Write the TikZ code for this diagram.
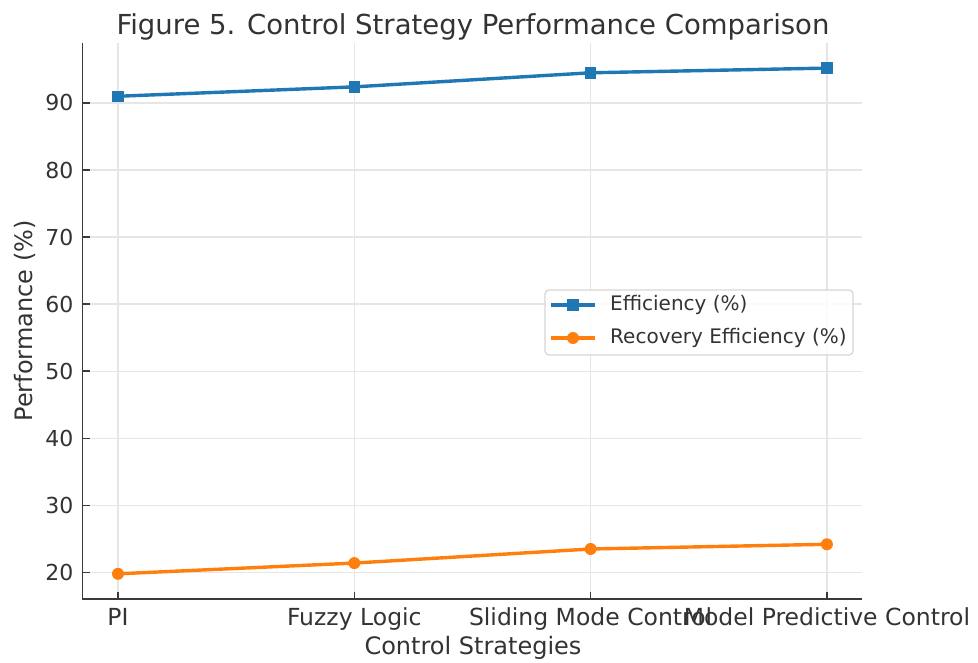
\documentclass[tikz,border=0pt]{standalone}
\usepackage{fontspec}
\setmainfont{DejaVu Sans}
\definecolor{effblue}{HTML}{1F77B4}
\definecolor{recorange}{HTML}{FF7F0E}
\definecolor{inkgray}{HTML}{333333}
\definecolor{spinegray}{HTML}{3A3A3A}
\definecolor{gridgray}{HTML}{E6E6E6}
\definecolor{legendedge}{HTML}{D6D6D6}
\begin{document}
\begin{tikzpicture}[x=1pt,y=-1pt,
  xticklabel/.style={font=\fontsize{23.5}{27}\selectfont, text=inkgray, inner sep=0pt},
  yticklabel/.style={font=\fontsize{22}{26}\selectfont, text=inkgray, inner sep=0pt},
  axislabel/.style={font=\fontsize{24}{28}\selectfont, text=inkgray, inner sep=0pt},
  titletext/.style={font=\fontsize{27.5}{32}\selectfont, text=inkgray, inner sep=0pt},
  legendtext/.style={font=\fontsize{20}{24}\selectfont, text=inkgray, inner sep=0pt, anchor=west},
  gridline/.style={draw=gridgray, line width=1.4pt},
  spine/.style={draw=spinegray, line width=1.8pt},
  tickmark/.style={draw=spinegray, line width=1.6pt},
  effline/.style={draw=effblue, line width=3.4pt, line join=round},
  recline/.style={draw=recorange, line width=3.4pt, line join=round},
  effmark/.style={fill=effblue, draw=none, rectangle, minimum size=11.5pt, inner sep=0pt},
  recmark/.style={fill=recorange, draw=none, circle, minimum size=12pt, inner sep=0pt}
]
\useasboundingbox (0,0) rectangle (978,663);
\fill[white] (0,0) rectangle (978,663);

% title
\node[titletext, anchor=base] (title) at (473,35) {Figure 5. Control Strategy Performance Comparison};

% data frame: x = strategy index, y = performance in percent
\begin{scope}[shift={(118,706.6)}, x=236.3pt, y=6.707pt]
  % grid
  \foreach \i in {0,...,3}
    \draw[gridline] (\i,16.03) -- (\i,98.97);
  \foreach \v in {20,30,...,90}
    \draw[gridline] (-0.15,\v) -- (3.15,\v);

  % spines (left and bottom only)
  \coordinate (ax-nw) at (-0.15,98.97);
  \coordinate (ax-sw) at (-0.15,16.03);
  \coordinate (ax-se) at (3.15,16.03);
  \draw[spine] (ax-nw) -- (ax-sw) -- (ax-se);

  % ticks and tick labels
  \foreach \i/\name in {0/PI, 1/Fuzzy Logic, 2/Sliding Mode Control, 3/Model Predictive Control} {
    \draw[tickmark] (\i,16.03) -- ++(0pt,7pt);
    \node[xticklabel, anchor=base, yshift=-26pt] (xt\i) at (\i,16.03) {\name};
  }
  \foreach \v in {20,30,...,90} {
    \draw[tickmark] (-0.15,\v) -- ++(7pt,0pt);
    \node[yticklabel, anchor=east, xshift=-9pt] (yt\v) at (-0.15,\v) {\v};
  }

  % series
  \coordinate (e0) at (0,91.0);
  \coordinate (e1) at (1,92.4);
  \coordinate (e2) at (2,94.5);
  \coordinate (e3) at (3,95.2);
  \coordinate (r0) at (0,19.8);
  \coordinate (r1) at (1,21.4);
  \coordinate (r2) at (2,23.5);
  \coordinate (r3) at (3,24.2);
  \draw[effline] (e0) -- (e1) -- (e2) -- (e3);
  \draw[recline] (r0) -- (r1) -- (r2) -- (r3);
  \foreach \k in {0,...,3} {
    \node[effmark] (em\k) at (e\k) {};
    \node[recmark] (rm\k) at (r\k) {};
  }
\end{scope}

% axis labels
\node[axislabel, anchor=base] (xlabel) at (473,654) {Control Strategies};
\node[axislabel, anchor=base, rotate=90] (ylabel) at (32,321) {Performance (\%)};

% legend
\draw[legendedge, line width=1.2pt, fill=white, fill opacity=0.85, rounded corners=4pt]
  (545,290) rectangle (853,355);
\coordinate (lgA1) at (551,305);
\coordinate (lgA2) at (595,305);
\coordinate (lgB1) at (551,338);
\coordinate (lgB2) at (595,338);
\draw[effline] (lgA1) -- (lgA2);
\node[effmark] (lgAm) at (573,305) {};
\draw[recline] (lgB1) -- (lgB2);
\node[recmark] (lgBm) at (573,338) {};
\node[legendtext] (lgAt) at (610,305) {Efficiency (\%)};
\node[legendtext] (lgBt) at (610,338) {Recovery Efficiency (\%)};
\end{tikzpicture}
\end{document}
